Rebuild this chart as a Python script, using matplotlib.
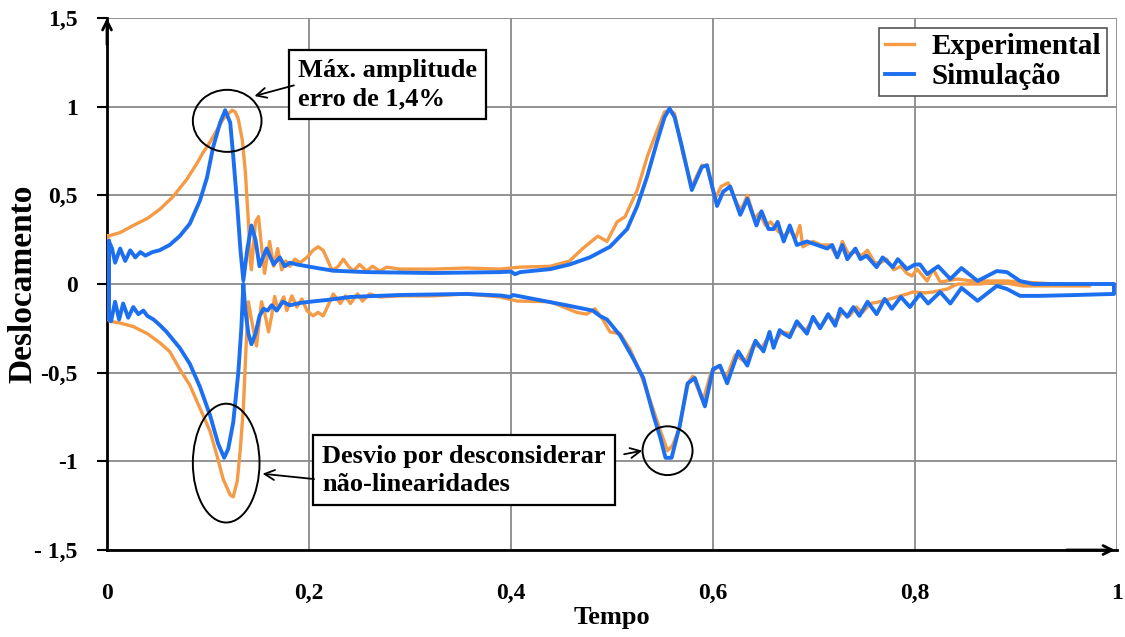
import matplotlib
matplotlib.use("Agg")
import matplotlib.pyplot as plt
from matplotlib.patches import Ellipse
from matplotlib.lines import Line2D

# ---------------- data ----------------
sim_up_x = [0.002, 0.005, 0.008, 0.013, 0.018, 0.023, 0.028, 0.033, 0.038, 0.045, 0.052, 0.062,
            0.072, 0.082, 0.092, 0.099, 0.105, 0.112, 0.117, 0.122, 0.125, 0.129, 0.132, 0.135,
            0.139, 0.143, 0.147, 0.151, 0.158, 0.165, 0.171, 0.176, 0.181, 0.188, 0.198, 0.208,
            0.224, 0.257, 0.323, 0.389, 0.400, 0.404, 0.409, 0.439, 0.458, 0.478, 0.498, 0.515,
            0.525, 0.535, 0.545, 0.552, 0.557, 0.562, 0.569, 0.579, 0.589, 0.594, 0.604, 0.610,
            0.617, 0.627, 0.634, 0.643, 0.648, 0.655, 0.660, 0.664, 0.670, 0.676, 0.683, 0.693,
            0.703, 0.713, 0.718, 0.723, 0.728, 0.733, 0.741, 0.746, 0.752, 0.762, 0.768, 0.778,
            0.783, 0.792, 0.800, 0.805, 0.812, 0.823, 0.835, 0.846, 0.862, 0.881, 0.891, 0.904,
            0.917, 0.956, 0.997]
sim_up_y = [0.24, 0.20, 0.12, 0.20, 0.13, 0.19, 0.15, 0.18, 0.16, 0.18, 0.19, 0.22,
            0.27, 0.34, 0.47, 0.60, 0.77, 0.91, 0.98, 0.91, 0.72, 0.44, 0.20, 0.02,
            0.20, 0.33, 0.25, 0.10, 0.20, 0.11, 0.15, 0.10, 0.12, 0.11, 0.10, 0.09,
            0.075, 0.067, 0.062, 0.067, 0.07, 0.055, 0.067, 0.084, 0.11, 0.15, 0.21, 0.31,
            0.44, 0.61, 0.81, 0.94, 0.99, 0.94, 0.78, 0.53, 0.66, 0.67, 0.44, 0.52,
            0.55, 0.39, 0.48, 0.33, 0.41, 0.31, 0.31, 0.35, 0.24, 0.33, 0.22, 0.24,
            0.22, 0.20, 0.22, 0.15, 0.22, 0.14, 0.20, 0.14, 0.16, 0.095, 0.15, 0.095,
            0.14, 0.084, 0.11, 0.11, 0.056, 0.10, 0.028, 0.09, 0.017, 0.073, 0.067, 0.017,
            0.0, 0.0, 0.0]

sim_lo_x = [0.002, 0.004, 0.008, 0.012, 0.016, 0.021, 0.026, 0.031, 0.036, 0.040, 0.046, 0.052,
            0.059, 0.072, 0.082, 0.092, 0.102, 0.110, 0.116, 0.120, 0.125, 0.130, 0.133, 0.135,
            0.137, 0.140, 0.143, 0.147, 0.151, 0.155, 0.159, 0.163, 0.168, 0.174, 0.181, 0.191,
            0.201, 0.218, 0.241, 0.290, 0.356, 0.390, 0.399, 0.402, 0.422, 0.455, 0.481, 0.488,
            0.495, 0.508, 0.521, 0.531, 0.541, 0.548, 0.553, 0.559, 0.567, 0.575, 0.582, 0.592,
            0.600, 0.607, 0.614, 0.625, 0.634, 0.642, 0.650, 0.656, 0.660, 0.666, 0.670, 0.676,
            0.683, 0.693, 0.699, 0.706, 0.714, 0.721, 0.726, 0.733, 0.739, 0.745, 0.753, 0.762,
            0.770, 0.777, 0.786, 0.795, 0.805, 0.813, 0.825, 0.835, 0.846, 0.862, 0.881, 0.891,
            0.904, 0.924, 0.960, 0.997]
sim_lo_y = [-0.20, -0.21, -0.10, -0.20, -0.11, -0.19, -0.13, -0.17, -0.15, -0.18, -0.20, -0.23,
            -0.27, -0.36, -0.45, -0.58, -0.74, -0.90, -0.98, -0.93, -0.78, -0.50, -0.25, 0.0,
            -0.15, -0.28, -0.34, -0.28, -0.18, -0.14, -0.15, -0.12, -0.15, -0.10, -0.12, -0.107,
            -0.10, -0.09, -0.073, -0.062, -0.056, -0.065, -0.073, -0.062, -0.084, -0.12, -0.15, -0.18,
            -0.20, -0.29, -0.42, -0.53, -0.74, -0.87, -0.98, -0.98, -0.80, -0.56, -0.53, -0.69,
            -0.48, -0.46, -0.56, -0.38, -0.46, -0.32, -0.38, -0.27, -0.36, -0.26, -0.28, -0.30,
            -0.21, -0.28, -0.185, -0.25, -0.17, -0.235, -0.14, -0.185, -0.13, -0.18, -0.10, -0.17,
            -0.084, -0.14, -0.073, -0.13, -0.056, -0.11, -0.045, -0.11, -0.022, -0.095, -0.011, -0.028,
            -0.067, -0.067, -0.062, -0.056]

exp_up_x = [0.001, 0.013, 0.026, 0.040, 0.052, 0.065, 0.079, 0.089, 0.095, 0.102, 0.109, 0.115,
            0.120, 0.124, 0.127, 0.130, 0.134, 0.137, 0.140, 0.142, 0.143, 0.147, 0.150, 0.153,
            0.156, 0.161, 0.165, 0.169, 0.173, 0.177, 0.181, 0.186, 0.191, 0.198, 0.204, 0.209,
            0.214, 0.218, 0.223, 0.229, 0.234, 0.239, 0.244, 0.250, 0.257, 0.263, 0.270, 0.277,
            0.290, 0.323, 0.356, 0.389, 0.409, 0.439, 0.458, 0.471, 0.486, 0.495, 0.505, 0.513,
            0.525, 0.535, 0.545, 0.552, 0.557, 0.562, 0.570, 0.579, 0.589, 0.594, 0.602, 0.608,
            0.615, 0.624, 0.628, 0.634, 0.641, 0.646, 0.652, 0.657, 0.664, 0.670, 0.676, 0.682,
            0.686, 0.689, 0.699, 0.707, 0.716, 0.723, 0.728, 0.734, 0.741, 0.747, 0.753, 0.760,
            0.766, 0.772, 0.779, 0.786, 0.792, 0.797, 0.802, 0.812, 0.818, 0.825, 0.842, 0.857,
            0.877, 0.891, 0.907, 0.973]
exp_up_y = [0.27, 0.29, 0.33, 0.37, 0.42, 0.49, 0.59, 0.68, 0.74, 0.80, 0.87, 0.93,
            0.96, 0.98, 0.97, 0.93, 0.81, 0.63, 0.35, 0.12, 0.08, 0.35, 0.38, 0.21,
            0.06, 0.24, 0.10, 0.20, 0.08, 0.13, 0.10, 0.14, 0.12, 0.15, 0.19, 0.21,
            0.19, 0.14, 0.075, 0.10, 0.14, 0.10, 0.073, 0.11, 0.073, 0.10, 0.073, 0.095,
            0.084, 0.084, 0.09, 0.084, 0.095, 0.10, 0.13, 0.20, 0.27, 0.24, 0.35, 0.38,
            0.53, 0.72, 0.87, 0.97, 0.98, 0.96, 0.74, 0.55, 0.67, 0.66, 0.48, 0.55,
            0.57, 0.45, 0.42, 0.50, 0.37, 0.40, 0.33, 0.35, 0.30, 0.27, 0.30, 0.26,
            0.33, 0.21, 0.24, 0.22, 0.22, 0.15, 0.24, 0.17, 0.18, 0.16, 0.19, 0.12,
            0.12, 0.14, 0.08, 0.10, 0.06, 0.045, 0.084, 0.017, 0.084, 0.011, 0.028, 0.017,
            0.017, 0.017, 0.011, -0.011]

exp_lo_x = [0.001, 0.003, 0.013, 0.026, 0.040, 0.052, 0.062, 0.072, 0.082, 0.092, 0.102, 0.109,
            0.115, 0.122, 0.125, 0.129, 0.132, 0.135, 0.137, 0.139, 0.140, 0.143, 0.146, 0.148,
            0.151, 0.153, 0.156, 0.160, 0.163, 0.166, 0.169, 0.175, 0.178, 0.183, 0.188, 0.193,
            0.198, 0.204, 0.209, 0.214, 0.219, 0.224, 0.231, 0.236, 0.241, 0.248, 0.253, 0.260,
            0.270, 0.290, 0.323, 0.356, 0.389, 0.406, 0.439, 0.465, 0.475, 0.483, 0.491, 0.498,
            0.508, 0.518, 0.528, 0.538, 0.548, 0.555, 0.560, 0.567, 0.574, 0.580, 0.590, 0.598,
            0.606, 0.613, 0.622, 0.632, 0.640, 0.648, 0.655, 0.661, 0.668, 0.676, 0.683, 0.692,
            0.699, 0.707, 0.714, 0.722, 0.728, 0.735, 0.742, 0.748, 0.756, 0.765, 0.772, 0.782,
            0.790, 0.798, 0.810, 0.818, 0.832, 0.842, 0.864, 0.884, 0.907, 0.973]
exp_lo_y = [-0.20, -0.21, -0.22, -0.24, -0.28, -0.33, -0.38, -0.48, -0.57, -0.70, -0.83, -0.97,
            -1.10, -1.19, -1.20, -1.11, -0.93, -0.70, -0.44, -0.20, -0.10, -0.20, -0.29, -0.35,
            -0.20, -0.10, -0.16, -0.27, -0.18, -0.07, -0.14, -0.073, -0.15, -0.067, -0.13, -0.084,
            -0.15, -0.18, -0.16, -0.18, -0.12, -0.056, -0.11, -0.067, -0.11, -0.056, -0.096, -0.056,
            -0.073, -0.067, -0.067, -0.056, -0.073, -0.096, -0.10, -0.16, -0.17, -0.14, -0.20, -0.27,
            -0.28, -0.37, -0.50, -0.66, -0.83, -0.94, -0.91, -0.81, -0.57, -0.52, -0.66, -0.50,
            -0.46, -0.53, -0.40, -0.44, -0.34, -0.36, -0.30, -0.33, -0.27, -0.28, -0.23, -0.26,
            -0.20, -0.24, -0.18, -0.21, -0.16, -0.18, -0.13, -0.16, -0.11, -0.10, -0.09, -0.073,
            -0.06, -0.045, -0.05, -0.045, -0.028, 0.0, 0.0, 0.011, -0.011, -0.011]

x_ticks = [0, 0.2, 0.4, 0.6, 0.8, 1.0]
x_tick_labels = ["0", "0,2", "0,4", "0,6", "0,8", "1"]
y_ticks = [-1.5, -1.0, -0.5, 0, 0.5, 1.0, 1.5]
y_tick_labels = ["- 1,5", "-1", "-0,5", "0", "0,5", "1", "1,5"]

series_names = ["Experimental", "Simulação"]
ORANGE = "#f59a45"
BLUE = "#1c6ff0"

SERIF = ["Liberation Serif", "DejaVu Serif"]
plt.rcParams["font.family"] = SERIF
plt.rcParams["font.weight"] = "bold"


def loop(ux, uy, lx, ly):
    xs = list(ux) + list(reversed(lx)) + [ux[0]]
    ys = list(uy) + list(reversed(ly)) + [uy[0]]
    return xs, ys


fig = plt.figure(figsize=(11.25, 6.37), dpi=100)
ax = fig.add_axes([107 / 1125, 1 - 550 / 637, 1010 / 1125, 532 / 637])
ax.set_xlim(0, 1)
ax.set_ylim(-1.5, 1.5)

ex, ey = loop(exp_up_x, exp_up_y, exp_lo_x, exp_lo_y)
sx, sy = loop(sim_up_x, sim_up_y, sim_lo_x, sim_lo_y)
ax.plot(ex, ey, color=ORANGE, lw=2.4, zorder=3, solid_joinstyle="round")
ax.plot(sx, sy, color=BLUE, lw=2.8, zorder=4, solid_joinstyle="round")

ax.set_xticks(x_ticks)
ax.set_xticklabels(x_tick_labels, fontsize=17, fontweight="bold")
ax.set_yticks(y_ticks)
ax.set_yticklabels(y_tick_labels, fontsize=17, fontweight="bold")
ax.tick_params(axis="x", length=0, pad=24)
ax.tick_params(axis="y", length=7, width=1.5, pad=14, direction="out")
ax.grid(True, color="#8a8a8a", lw=1.3, zorder=1)
ax.set_axisbelow(True)
for s in ["top", "right"]:
    ax.spines[s].set_visible(False)
for s in ["left", "bottom"]:
    ax.spines[s].set_linewidth(2)
    ax.spines[s].set_color("black")

# axis arrows
arr = dict(arrowstyle="->", lw=2, color="black", mutation_scale=16, shrinkA=0, shrinkB=0)
ax.annotate("", xy=(0, 1.0), xytext=(0, 0.95), xycoords="axes fraction",
            arrowprops=arr, annotation_clip=False)
ax.annotate("", xy=(0.998, 0), xytext=(0.95, 0), xycoords="axes fraction",
            arrowprops=arr, annotation_clip=False)

ax.set_xlabel("Tempo", fontsize=19, fontweight="bold")
ax.xaxis.set_label_coords(0.5, -0.105)
ax.set_ylabel("Deslocamento", fontsize=24, fontweight="bold")
ax.yaxis.set_label_coords(-0.068, 0.5)

# ellipses
for (cx, cy, w, h) in [(0.119, 0.92, 0.068, 0.35), (0.118, -1.01, 0.066, 0.67), (0.555, -0.94, 0.0495, 0.275)]:
    ax.add_patch(Ellipse((cx, cy), w, h, fill=False, edgecolor="black", lw=1.4, zorder=6))

# annotation boxes
bbox = dict(boxstyle="square,pad=0.35", fc="white", ec="black", lw=1.6)
ax.text(0.189, 1.125, "Máx. amplitude\nerro de 1,4%", fontsize=19, fontweight="bold",
        va="center", ha="left", bbox=bbox, zorder=7, linespacing=1.3)
ax.text(0.213, -1.05, "Desvio por desconsiderar\nnão-linearidades", fontsize=19, fontweight="bold",
        va="center", ha="left", bbox=bbox, zorder=7, linespacing=1.3)

ap = dict(arrowstyle="->", lw=1.3, color="black", mutation_scale=18, shrinkA=0, shrinkB=0)
ax.annotate("", xy=(0.146, 1.06), xytext=(0.185, 1.12), arrowprops=ap, zorder=7)
ax.annotate("", xy=(0.154, -1.07), xytext=(0.205, -1.10), arrowprops=ap, zorder=7)
ax.annotate("", xy=(0.530, -0.94), xytext=(0.512, -0.96), arrowprops=ap, zorder=7)

# legend
handles = [Line2D([0], [0], color=ORANGE, lw=2.4), Line2D([0], [0], color=BLUE, lw=2.8)]
leg = ax.legend(handles, series_names, loc="upper right", bbox_to_anchor=(0.99, 0.982),
                prop={"family": SERIF, "weight": "bold", "size": 21},
                handlelength=1.0, handletextpad=0.6, borderpad=0.2, labelspacing=0.1,
                borderaxespad=0, fancybox=False, framealpha=1, edgecolor="#555555")
leg.get_frame().set_linewidth(1.2)

fig.savefig("out.png", dpi=100)
